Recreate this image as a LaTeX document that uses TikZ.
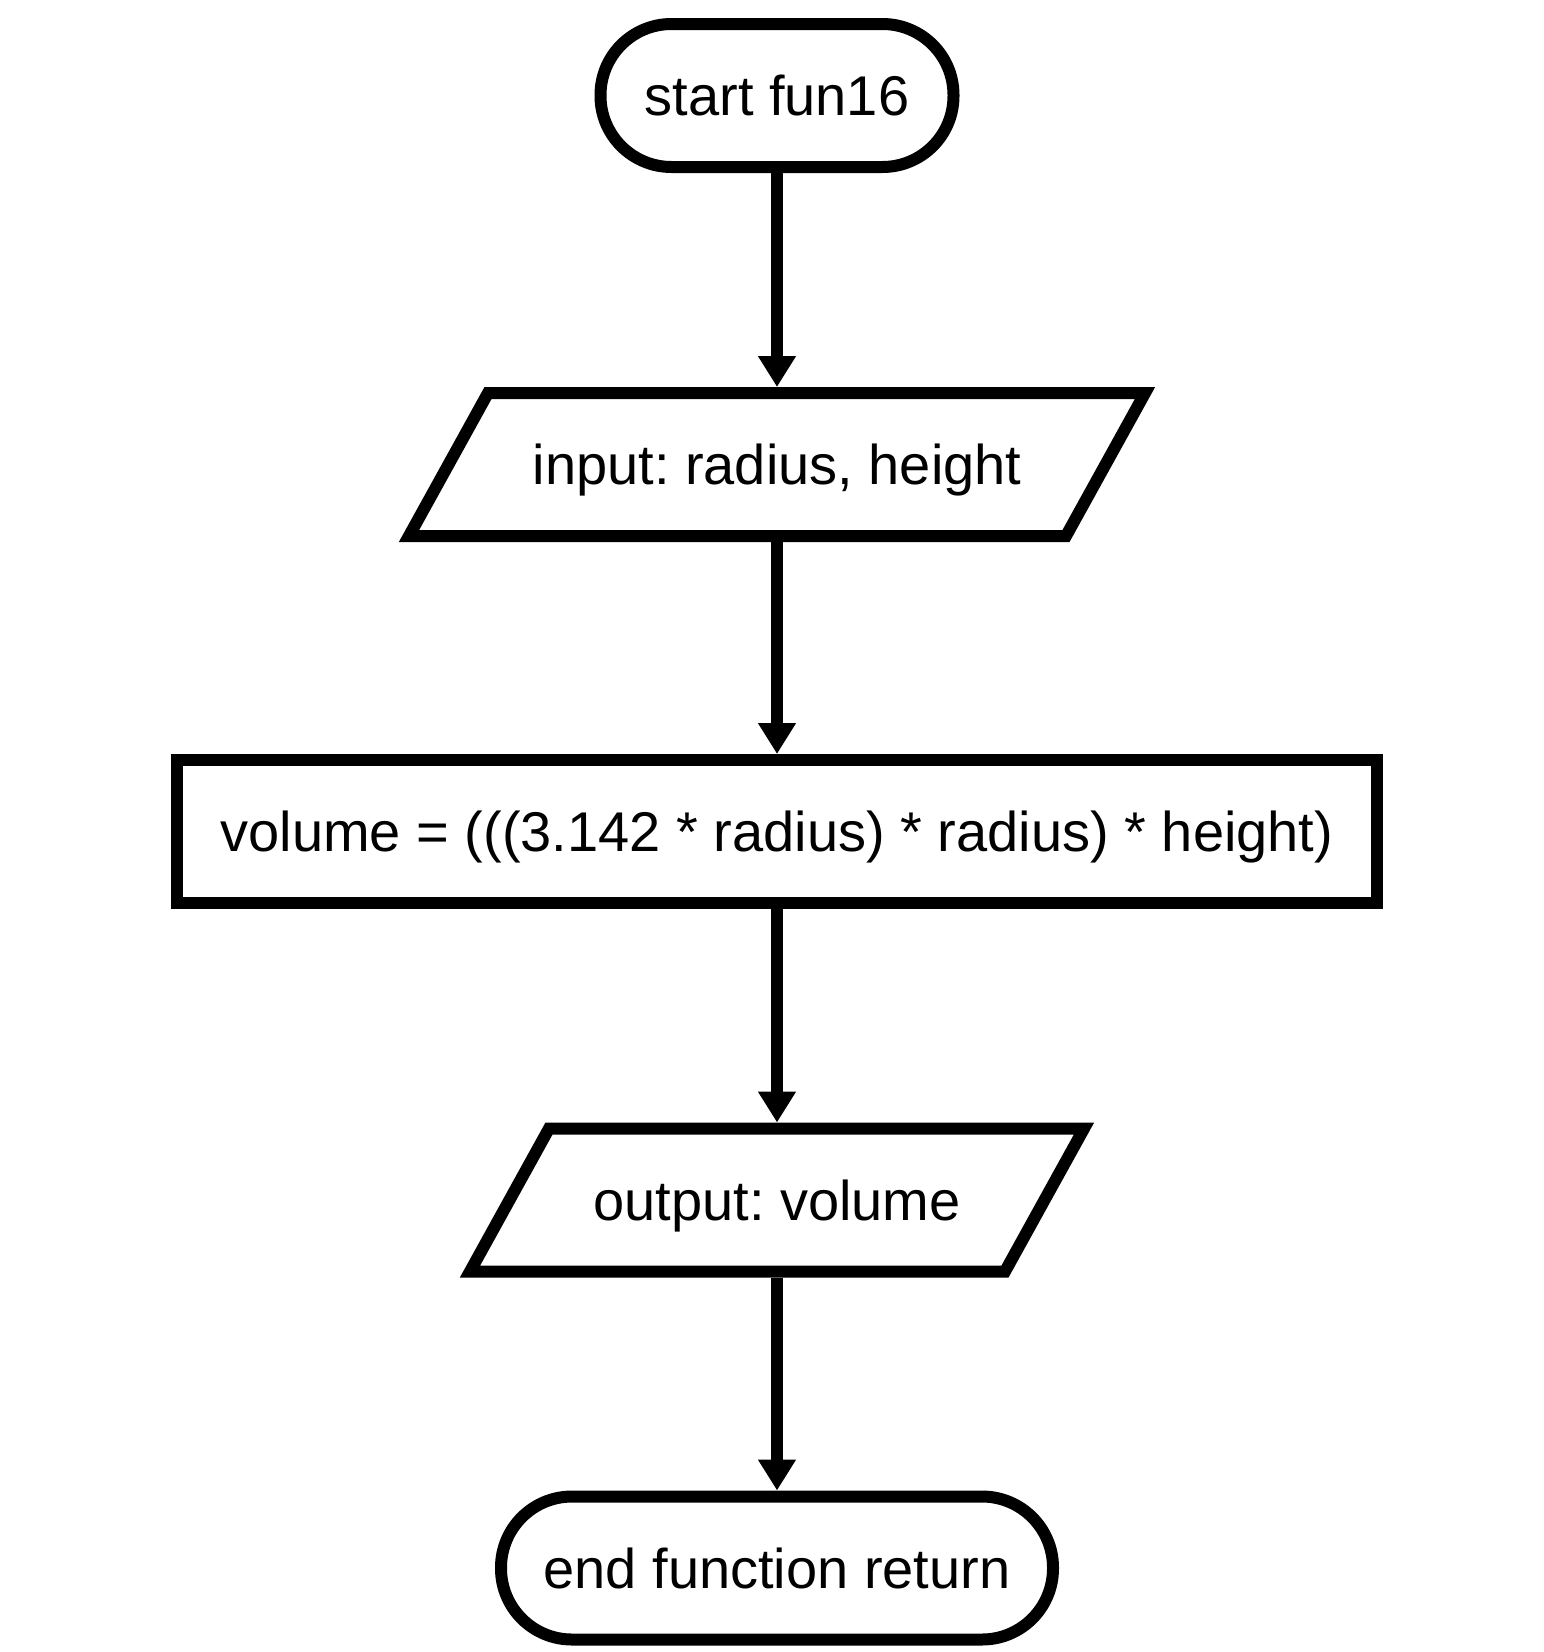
\documentclass[tikz,border=0pt]{standalone}
\usepackage{fontspec}
\setmainfont{Liberation Sans}
\usetikzlibrary{arrows.meta,calc}
\frenchspacing
\begin{document}
\begin{tikzpicture}[x=1pt,y=1pt,
  every node/.style={font=\fontsize{56}{63}\selectfont, inner sep=0pt, outer sep=6pt,
    text height=40.1pt, text depth=0pt, line width=12pt},
  term/.style={draw, rectangle, rounded corners=71pt, minimum height=143pt},
  procbox/.style={draw, rectangle, minimum height=143pt},
  iobox/.style={rectangle, minimum height=143pt},
  flow/.style={line width=12pt, -{Triangle[length=31pt,width=36pt]}},
  ioline/.style={line width=12pt, line join=miter}]
\useasboundingbox (0,0) rectangle (1543,-1652);
\node[term, minimum width=353pt] (start) at (777,-95.5) {start fun16};
\node[iobox, minimum width=645pt] (in) at (777,-464.5) {input: radius, height};
\node[procbox, minimum width=1200pt] (calc) at (777,-831.5) {volume = (((3.142 * radius) * radius) * height)};
\node[iobox, minimum width=523pt] (out) at (777,-1200) {output: volume};
\node[term, minimum width=552pt] (end) at (777,-1568) {end function return};
\foreach \n in {in,out}{
  \draw[ioline] ($(\n.north west)+(39.5,-6)$) -- ($(\n.north east)+(39.5,-6)$)
    -- ($(\n.south east)+(-39.5,6)$) -- ($(\n.south west)+(-39.5,6)$) -- cycle;
}
\draw[flow] (start) -- (in);
\draw[flow] (in) -- (calc);
\draw[flow] (calc) -- (out);
\draw[flow] (out) -- (end);
\end{tikzpicture}
\end{document}
